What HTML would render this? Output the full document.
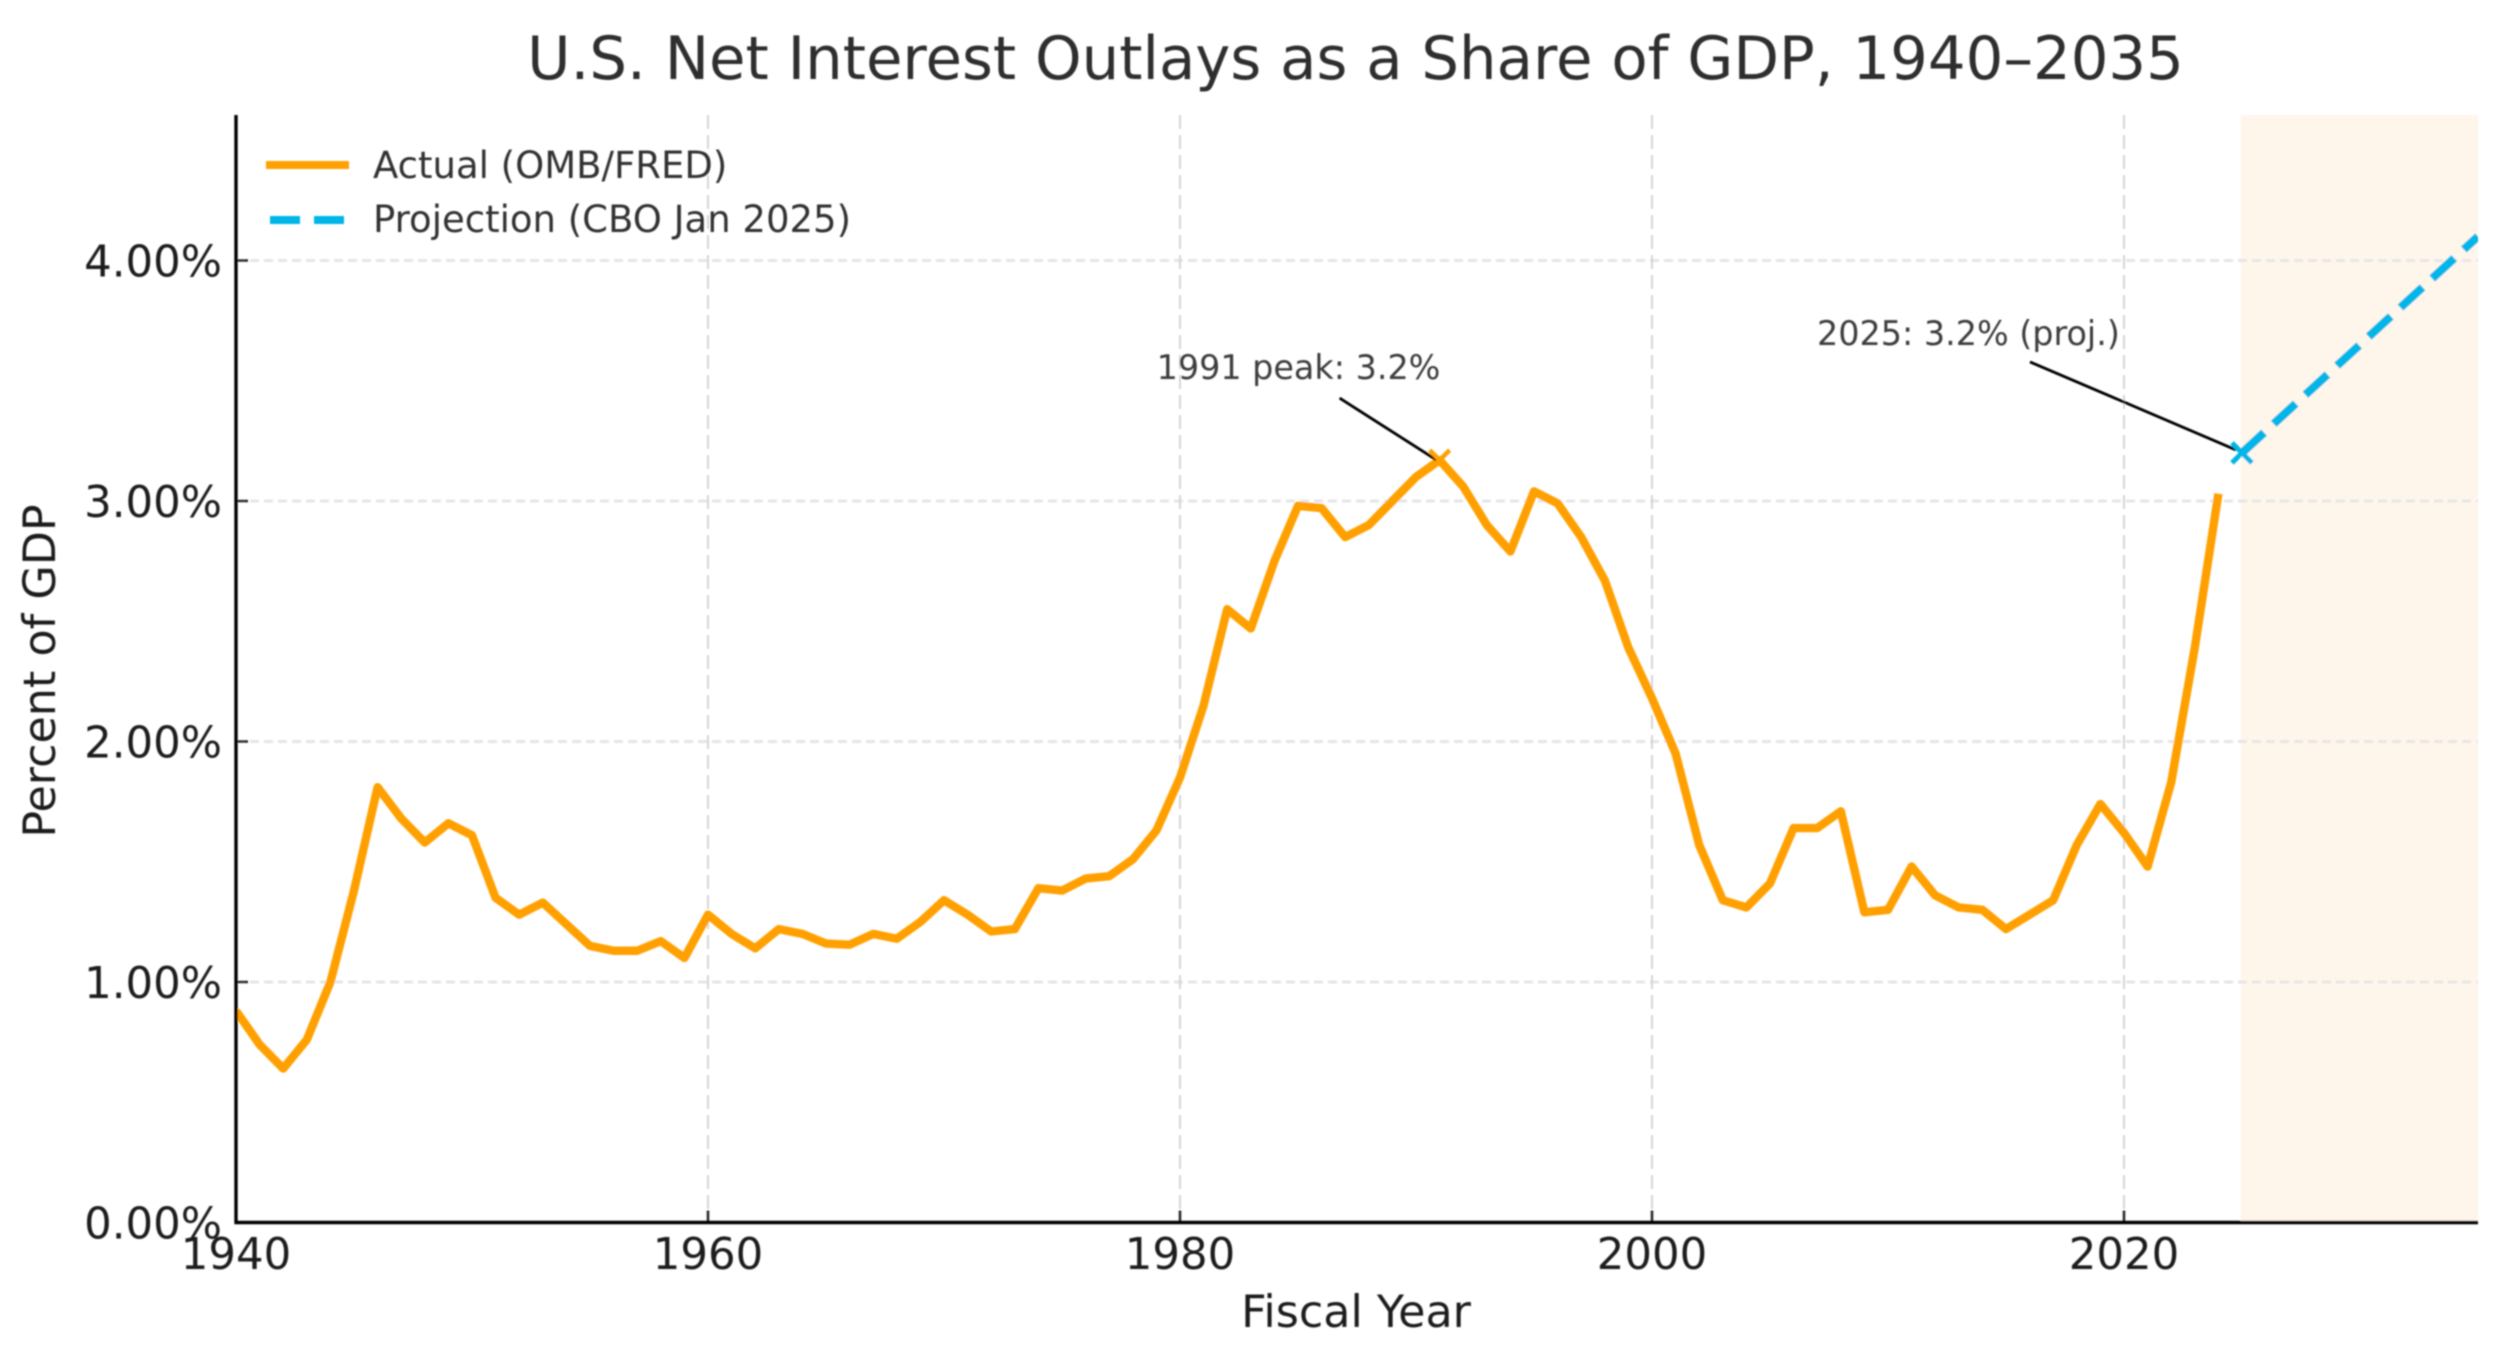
<!DOCTYPE html>
<html lang="en">
<head>
<meta charset="utf-8">
<title>U.S. Net Interest Outlays as a Share of GDP, 1940–2035</title>
<style>
html,body{margin:0;padding:0;background:#fff;width:2505px;height:1364px;overflow:hidden}
svg{display:block}
text{font-family:"DejaVu Sans","Liberation Sans",sans-serif}
</style>
</head>
<body>
<svg id="chart" xmlns="http://www.w3.org/2000/svg" width="2505" height="1364" viewBox="0 0 2505 1364">
  <defs>
    <clipPath id="plot-clip"><rect x="236" y="115" width="2242" height="1108"></rect></clipPath>
    <filter id="soft" x="0" y="0" width="100%" height="100%" filterUnits="userSpaceOnUse"><feGaussianBlur stdDeviation="0.8"></feGaussianBlur></filter>
  </defs>
  <rect x="0" y="0" width="2505" height="1364" fill="#ffffff"></rect>
  <g id="root" filter="url(#soft)">
    <rect id="shade" fill="#fef6eb"></rect>
    <g id="grid"></g>
    <g id="series" clip-path="url(#plot-clip)"></g>
    <g id="axes"></g>
    <g id="annotations"></g>
    <text x="1355.5" y="79" text-anchor="middle" font-size="59.3" fill="#2f2f2f">U.S. Net Interest Outlays as a Share of GDP, 1940–2035</text>
    <text x="1356" y="1327" text-anchor="middle" font-size="44.4" fill="#1f1f1f">Fiscal Year</text>
    <text transform="translate(55 671) rotate(-90)" text-anchor="middle" font-size="44.4" fill="#1f1f1f">Percent of GDP</text>
    <g>
      <g>
        <line x1="266" y1="165" x2="349" y2="165" stroke="#ffa000" stroke-width="8"></line>
        <text x="373" y="178" font-size="37" fill="#333333">Actual (OMB/FRED)</text>
      </g>
      <g>
        <line x1="270" y1="220" x2="345" y2="220" stroke="#00b5e8" stroke-width="8" stroke-dasharray="30 14"></line>
        <text x="373" y="232" font-size="37" fill="#333333">Projection (CBO Jan 2025)</text>
      </g>
    </g>
  </g>
</svg>
<script>
const actualStartYear = 1940;
const actualValues = [
  0.88,0.74,0.64,0.76,1.00,1.38,1.81,1.68,1.58,1.66,
  1.61,1.35,1.28,1.33,1.24,1.15,1.13,1.13,1.17,1.10,
  1.28,1.20,1.14,1.22,1.20,1.16,1.155,1.20,1.18,1.25,
  1.34,1.28,1.21,1.22,1.39,1.38,1.43,1.44,1.51,1.63,
  1.85,2.15,2.55,2.47,2.75,2.98,2.97,2.85,2.90,3.00,
  3.10,3.17,3.06,2.90,2.79,3.04,2.99,2.85,2.67,2.39,
  2.18,1.95,1.57,1.34,1.31,1.41,1.64,1.64,1.71,1.29,
  1.30,1.48,1.36,1.31,1.30,1.22,1.28,1.34,1.57,1.74,
  1.62,1.48,1.83,2.39,3.03
];
const projectionStartYear = 2025;
const projectionValues = [3.20,3.29,3.38,3.47,3.56,3.65,3.74,3.83,3.92,4.01,4.10];
const xTickValues = [1940,1960,1980,2000,2020];
const xTickLabels = ["1940","1960","1980","2000","2020"];
const yTickValues = [0,1,2,3,4];
const yTickLabels = ["0.00%","1.00%","2.00%","3.00%","4.00%"];
const xDomain = [1940,2035];
const yDomain = [0,4.605];
const peakYear = 1991;
const peakValue = 3.17;
const shadeStartYear = 2024.95;

const NS = "http://www.w3.org/2000/svg";
const plot = {left:236,right:2478,top:115,bottom:1222.5};
function xScale(v){return plot.left+(v-xDomain[0])/(xDomain[1]-xDomain[0])*(plot.right-plot.left);}
function yScale(v){return plot.bottom-(v-yDomain[0])/(yDomain[1]-yDomain[0])*(plot.bottom-plot.top);}
function make(tag,attrs,parent){
  const el=document.createElementNS(NS,tag);
  for(const k in attrs){el.setAttribute(k,attrs[k]);}
  parent.appendChild(el);
  return el;
}
const grid=document.getElementById("grid");
const series=document.getElementById("series");
const axes=document.getElementById("axes");
const annotations=document.getElementById("annotations");

const shade=document.getElementById("shade");
shade.setAttribute("x",xScale(shadeStartYear));
shade.setAttribute("y",plot.top);
shade.setAttribute("width",xScale(xDomain[1])-xScale(shadeStartYear));
shade.setAttribute("height",plot.bottom-plot.top);

yTickValues.forEach(function(v,i){
  if(v>0){
    const g=make("line",{x1:plot.left,x2:plot.right,y1:yScale(v),y2:yScale(v),stroke:"#e6e6e6","stroke-width":3,"stroke-dasharray":"9 5"},grid);
    
    
  }
  const t=make("line",{x1:plot.left,x2:plot.left+12,y1:yScale(v),y2:yScale(v),stroke:"#222222","stroke-width":2.5},axes);
  
  
  const lab=make("text",{x:222,y:yScale(v)+16,"text-anchor":"end","font-size":43.4,fill:"#1a1a1a"},axes);
  lab.textContent=yTickLabels[i];
  
  
});

xTickValues.forEach(function(v,i){
  if(v>xDomain[0]){
    const g=make("line",{x1:xScale(v),x2:xScale(v),y1:plot.top,y2:plot.bottom,stroke:"#d2d2d2","stroke-width":1.8,"stroke-dasharray":"14 6"},grid);
    
    
  }
  const t=make("line",{x1:xScale(v),x2:xScale(v),y1:plot.bottom,y2:plot.bottom-12,stroke:"#222222","stroke-width":2.5},axes);
  
  
  const lab=make("text",{x:xScale(v),y:1269,"text-anchor":"middle","font-size":43.4,fill:"#1a1a1a"},axes);
  lab.textContent=xTickLabels[i];
  
  
});

const spineLeft=make("line",{x1:plot.left,x2:plot.left,y1:plot.top,y2:plot.bottom+1.5,stroke:"#000000","stroke-width":3.4},axes);


const spineBottom=make("line",{x1:plot.left-1.5,x2:plot.right,y1:plot.bottom,y2:plot.bottom,stroke:"#000000","stroke-width":3.4},axes);



const actualPts=actualValues.map(function(v,i){return xScale(actualStartYear+i).toFixed(2)+","+yScale(v).toFixed(2);}).join(" ");
const actualLine=make("polyline",{points:actualPts,fill:"none",stroke:"#ffa000","stroke-width":8.4,"stroke-linejoin":"round"},series);



const projPts=projectionValues.map(function(v,i){return xScale(projectionStartYear+i).toFixed(2)+","+yScale(v).toFixed(2);}).join(" ");
const projLine=make("polyline",{points:projPts,fill:"none",stroke:"#00b5e8","stroke-width":8.4,"stroke-dasharray":"30 13"},series);



function cross(cx,cy,r,color,w,name){
  const c=make("path",{d:"M"+(cx-r)+" "+(cy-r)+"L"+(cx+r)+" "+(cy+r)+"M"+(cx-r)+" "+(cy+r)+"L"+(cx+r)+" "+(cy-r),stroke:color,"stroke-width":w,fill:"none"},annotations);
  
  
}
const peakX=xScale(peakYear), peakY=yScale(peakValue);
const projX=xScale(projectionStartYear), projY=yScale(projectionValues[0]);

const peakArrow=make("line",{x1:peakX-100,y1:peakY-62,x2:peakX-3,y2:peakY,stroke:"#000000","stroke-width":2.8},annotations);


cross(peakX,peakY,10,"#ffa000",4.5,"peak-marker");
const peakLabel=make("text",{x:peakX-283,y:peakY-81,"font-size":33.4,fill:"#3c3c3c"},annotations);
peakLabel.textContent="1991 peak: 3.2%";



const projArrow=make("line",{x1:projX-212,y1:projY-91,x2:projX-6,y2:projY-3,stroke:"#000000","stroke-width":2.8},annotations);


cross(projX,projY,10,"#00b5e8",5,"projection-marker");
const projLabel=make("text",{x:projX-425,y:projY-108,"font-size":33.4,fill:"#3c3c3c"},annotations);
projLabel.textContent="2025: 3.2% (proj.)";


</script>
</body>
</html>
